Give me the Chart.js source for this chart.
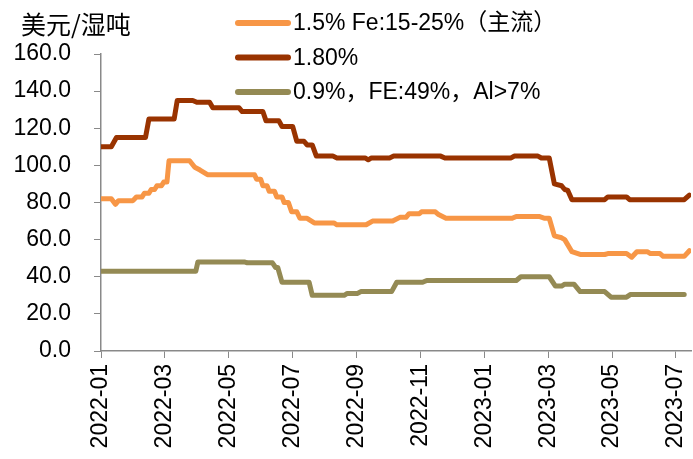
<!DOCTYPE html>
<html>
<head>
<meta charset="utf-8">
<script src="https://cdn.jsdelivr.net/npm/chart.js@4.4.1/dist/chart.umd.min.js"></script>
<style>
  html, body { margin: 0; padding: 0; background: #fff; }
  #box { width: 693px; height: 459px; position: relative; }
</style>
</head>
<body>
<div id="box"><canvas id="priceChart"></canvas></div>
<script>
// 单位 / 轴
const unitLabel = '美元/湿吨';
const xTickLabels = ['2022-01', '2022-03', '2022-05', '2022-07', '2022-09', '2022-11', '2023-01', '2023-03', '2023-05', '2023-07'];
const yMin = 0, yMax = 160, yStep = 20;

const seriesNames = ['1.5% Fe:15-25%（主流）', '1.80%', '0.9%，FE:49%，Al>7%'];
const seriesColors = ['#F79646', '#993300', '#948A54'];

// 1.5% Fe:15-25%（主流）
const datesMain = ['2022-01-01', '2022-01-11', '2022-01-15', '2022-01-18', '2022-02-01', '2022-02-04', '2022-02-09', '2022-02-11', '2022-02-15', '2022-02-17',
  '2022-02-20', '2022-02-22', '2022-02-26', '2022-02-28', '2022-03-03', '2022-03-05', '2022-03-25', '2022-03-30', '2022-04-04', '2022-04-11',
  '2022-05-26', '2022-05-28', '2022-06-01', '2022-06-03', '2022-06-07', '2022-06-09', '2022-06-14', '2022-06-16', '2022-06-21', '2022-06-23',
  '2022-06-27', '2022-06-30', '2022-07-05', '2022-07-08', '2022-07-15', '2022-07-22', '2022-08-10', '2022-08-13', '2022-09-10', '2022-09-16',
  '2022-10-05', '2022-10-12', '2022-10-18', '2022-10-21', '2022-10-31', '2022-11-02', '2022-11-15', '2022-11-18', '2022-11-25', '2023-01-28',
  '2023-02-01', '2023-02-21', '2023-02-26', '2023-03-02', '2023-03-07', '2023-03-14', '2023-03-17', '2023-03-24', '2023-04-01', '2023-04-24',
  '2023-04-27', '2023-05-15', '2023-05-20', '2023-05-25', '2023-06-04', '2023-06-07', '2023-06-16', '2023-06-19', '2023-07-09', '2023-07-14'];
const valuesMain = [82, 82, 79, 81, 81, 83, 83, 85, 85, 87,
  87, 89, 89, 91, 91, 102.5, 102.5, 99, 97.5, 95,
  95, 92.5, 92.5, 89, 89, 86, 86, 83, 83, 80,
  80, 75, 75, 71.5, 71.5, 69, 69, 68, 68, 70,
  70, 72, 72, 74, 74, 75, 75, 73.5, 71.5, 71.5,
  72.5, 72.5, 71.5, 71.5, 62, 61, 60, 53.5, 52, 52,
  52.5, 52.5, 50.5, 53.5, 53.5, 52.5, 52.5, 51, 51, 54];

// 1.80%
const dates180 = ['2022-01-01', '2022-01-11', '2022-01-16', '2022-02-12', '2022-02-15', '2022-03-10', '2022-03-13', '2022-03-28', '2022-04-01', '2022-04-13',
  '2022-04-16', '2022-05-11', '2022-05-14', '2022-06-03', '2022-06-06', '2022-06-18', '2022-06-21', '2022-07-01', '2022-07-05', '2022-07-12',
  '2022-07-15', '2022-07-20', '2022-07-24', '2022-08-09', '2022-08-13', '2022-09-09', '2022-09-12', '2022-09-15', '2022-10-02', '2022-10-06',
  '2022-11-20', '2022-11-24', '2023-01-27', '2023-01-30', '2023-02-20', '2023-02-23', '2023-03-02', '2023-03-07', '2023-03-14', '2023-03-17',
  '2023-03-20', '2023-03-24', '2023-04-24', '2023-04-27', '2023-05-15', '2023-05-18', '2023-07-09', '2023-07-14'];
const values180 = [110, 110, 115, 115, 125, 125, 135, 135, 134, 134,
  131, 131, 129, 129, 124, 124, 121, 121, 113, 113,
  111, 111, 105, 105, 104, 104, 103, 104, 104, 105,
  105, 104, 104, 105, 105, 104, 104, 90, 89, 87,
  86.5, 81.5, 81.5, 83, 83, 81.5, 81.5, 84];

// 0.9%，FE:49%，Al>7%
const dates09 = ['2022-01-01', '2022-03-31', '2022-04-02', '2022-05-16', '2022-05-19', '2022-06-12', '2022-06-15', '2022-06-17', '2022-06-21', '2022-07-17',
  '2022-07-20', '2022-08-20', '2022-08-23', '2022-09-02', '2022-09-05', '2022-10-04', '2022-10-09', '2022-11-03', '2022-11-07', '2023-02-01',
  '2023-02-05', '2023-03-02', '2023-03-08', '2023-03-14', '2023-03-17', '2023-03-26', '2023-04-01', '2023-04-24', '2023-04-30', '2023-05-15',
  '2023-05-19', '2023-07-09'];
const values09 = [43, 43, 48, 48, 47.5, 47.5, 45, 45, 37, 37,
  30, 30, 31, 31, 32, 32, 37, 37, 38, 38,
  40, 40, 35, 35, 36, 36, 32, 32, 29, 29,
  30.5, 30.5];

// 日期 -> 月序号（2022-01 = 0）
function monthIndex(s) {
  const [y, m, d] = s.split('-').map(Number);
  const days = new Date(y, m, 0).getDate();
  return (y - 2022) * 12 + (m - 1) + (d - 1) / days;
}

function toPoints(dates, values) {
  return dates.map((d, i) => ({ x: monthIndex(d), y: values[i] }));
}

const FONT = "'Liberation Sans', 'Noto Sans CJK SC', sans-serif";

// 单位和图例画在图里
const overlayPlugin = {
  id: 'overlay',
  afterDraw(chart) {
    const ctx = chart.ctx;
    ctx.save();
    ctx.fillStyle = '#000';
    ctx.textBaseline = 'middle';
    ctx.textAlign = 'left';
    ctx.font = "25px 'Noto Sans CJK SC', sans-serif";
    ctx.fillText(unitLabel, 21, 24);

    ctx.font = '23px ' + FONT;
    chart.data.datasets.forEach((ds, i) => {
      const y = 23 + i * 34.5;
      ctx.strokeStyle = ds.borderColor;
      ctx.lineWidth = 6;
      ctx.lineCap = 'round';
      ctx.beginPath();
      ctx.moveTo(238, y);
      ctx.lineTo(288, y);
      ctx.stroke();
      ctx.fillText(ds.label, 293, y + 1);
    });
    ctx.restore();
  }
};

const ctx = document.getElementById('priceChart').getContext('2d');
const priceChart = new Chart(ctx, {
  type: 'line',
  data: {
    datasets: [
      { label: seriesNames[0], data: toPoints(datesMain, valuesMain), borderColor: seriesColors[0] },
      { label: seriesNames[1], data: toPoints(dates180, values180), borderColor: seriesColors[1] },
      { label: seriesNames[2], data: toPoints(dates09, values09), borderColor: seriesColors[2] }
    ]
  },
  options: {
    responsive: true,
    maintainAspectRatio: false,
    animation: false,
    layout: { padding: { top: 54, right: 2, left: 0, bottom: 0 } },
    elements: {
      line: { borderWidth: 5, tension: 0, borderCapStyle: 'round', borderJoinStyle: 'round' },
      point: { radius: 0, hoverRadius: 0 }
    },
    plugins: {
      legend: { display: false },
      tooltip: { enabled: false }
    },
    scales: {
      x: {
        type: 'linear',
        min: 0,
        max: 18.47,
        afterBuildTicks: scale => {
          scale.ticks = xTickLabels.map((_, i) => ({ value: i * 2 }));
        },
        afterFit: scale => {
          scale.height = 108;
          scale.paddingLeft = 0;
          scale.paddingRight = 0;
        },
        ticks: {
          autoSkip: false,
          minRotation: 90,
          maxRotation: 90,
          padding: 6,
          color: '#000',
          font: { family: FONT, size: 23 },
          callback: v => xTickLabels[Math.round(v / 2)]
        },
        grid: { drawOnChartArea: false, tickLength: 7, color: '#898989' },
        border: { color: '#898989', width: 1.5 }
      },
      y: {
        min: yMin,
        max: yMax,
        afterFit: scale => {
          scale.width = 101;
          scale.paddingTop = 0;
          scale.paddingBottom = 0;
        },
        ticks: {
          stepSize: yStep,
          padding: 23,
          color: '#000',
          font: { family: FONT, size: 23 },
          callback: v => v.toFixed(1)
        },
        grid: { drawOnChartArea: false, tickLength: 7, color: '#898989' },
        border: { color: '#898989', width: 1.5 }
      }
    }
  },
  plugins: [overlayPlugin]
});
</script>
</body>
</html>
